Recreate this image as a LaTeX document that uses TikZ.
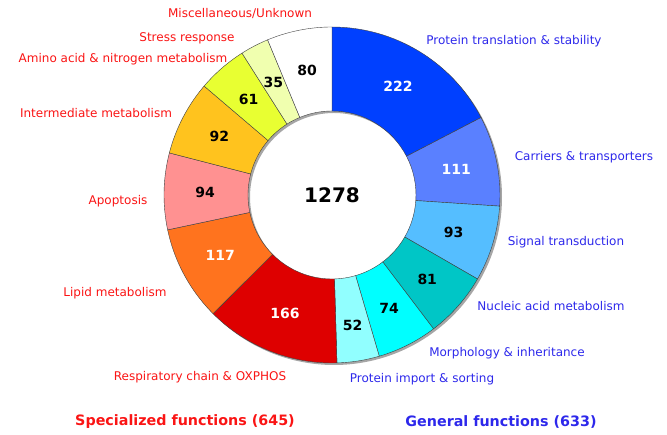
\documentclass[tikz,border=0pt]{standalone}
\usepackage{fontspec}
\setmainfont{DejaVu Sans}
\usepackage{tikz}

\definecolor{cTrans}{RGB}{0,64,255}
\definecolor{cCarr}{RGB}{90,128,255}
\definecolor{cSign}{RGB}{85,190,255}
\definecolor{cNucl}{RGB}{0,198,198}
\definecolor{cMorph}{RGB}{0,255,255}
\definecolor{cImp}{RGB}{145,255,255}
\definecolor{cResp}{RGB}{222,0,0}
\definecolor{cLip}{RGB}{255,115,30}
\definecolor{cApop}{RGB}{255,145,145}
\definecolor{cInter}{RGB}{255,195,30}
\definecolor{cAmino}{RGB}{232,255,50}
\definecolor{cStress}{RGB}{240,255,175}
\definecolor{cMisc}{RGB}{255,255,255}
\definecolor{specred}{RGB}{250,20,20}
\definecolor{genblue}{RGB}{45,40,235}

\begin{document}
\begin{tikzpicture}[x=1pt, y=1pt,
		slice/.style={draw=black!75, line width=0.4pt},
		num/.style={font=\fontsize{14}{16}\selectfont\bfseries},
		spec/.style={text=specred, font=\fontsize{12}{14}\selectfont},
		gen/.style={text=genblue, font=\fontsize{12}{14}\selectfont},
		total/.style={font=\fontsize{14.3}{16}\selectfont\bfseries}
	]
	\useasboundingbox (-332,-240) rectangle (335,195);

	\fill[black!35, even odd rule, shift={(2,-2)}] (0,0) circle (168pt) (0,0) circle (84pt);

	\draw[slice, fill=cTrans] (90:168pt) arc[start angle=90, end angle=27.465, radius=168pt] -- (27.465:84pt) arc[start angle=27.465, end angle=90, radius=84pt] -- cycle;
	\draw[slice, fill=cCarr] (27.465:168pt) arc[start angle=27.465, end angle=-3.803, radius=168pt] -- (-3.803:84pt) arc[start angle=-3.803, end angle=27.465, radius=84pt] -- cycle;
	\draw[slice, fill=cSign] (-3.803:168pt) arc[start angle=-3.803, end angle=-30, radius=168pt] -- (-30:84pt) arc[start angle=-30, end angle=-3.803, radius=84pt] -- cycle;
	\draw[slice, fill=cNucl] (-30:168pt) arc[start angle=-30, end angle=-52.817, radius=168pt] -- (-52.817:84pt) arc[start angle=-52.817, end angle=-30, radius=84pt] -- cycle;
	\draw[slice, fill=cMorph] (-52.817:168pt) arc[start angle=-52.817, end angle=-73.662, radius=168pt] -- (-73.662:84pt) arc[start angle=-73.662, end angle=-52.817, radius=84pt] -- cycle;
	\draw[slice, fill=cImp] (-73.662:168pt) arc[start angle=-73.662, end angle=-88.310, radius=168pt] -- (-88.310:84pt) arc[start angle=-88.310, end angle=-73.662, radius=84pt] -- cycle;
	\draw[slice, fill=cResp] (-88.310:168pt) arc[start angle=-88.310, end angle=-135.070, radius=168pt] -- (-135.070:84pt) arc[start angle=-135.070, end angle=-88.310, radius=84pt] -- cycle;
	\draw[slice, fill=cLip] (-135.070:168pt) arc[start angle=-135.070, end angle=-168.028, radius=168pt] -- (-168.028:84pt) arc[start angle=-168.028, end angle=-135.070, radius=84pt] -- cycle;
	\draw[slice, fill=cApop] (-168.028:168pt) arc[start angle=-168.028, end angle=-194.507, radius=168pt] -- (-194.507:84pt) arc[start angle=-194.507, end angle=-168.028, radius=84pt] -- cycle;
	\draw[slice, fill=cInter] (-194.507:168pt) arc[start angle=-194.507, end angle=-220.423, radius=168pt] -- (-220.423:84pt) arc[start angle=-220.423, end angle=-194.507, radius=84pt] -- cycle;
	\draw[slice, fill=cAmino] (-220.423:168pt) arc[start angle=-220.423, end angle=-237.606, radius=168pt] -- (-237.606:84pt) arc[start angle=-237.606, end angle=-220.423, radius=84pt] -- cycle;
	\draw[slice, fill=cStress] (-237.606:168pt) arc[start angle=-237.606, end angle=-247.465, radius=168pt] -- (-247.465:84pt) arc[start angle=-247.465, end angle=-237.606, radius=84pt] -- cycle;
	\draw[slice, fill=cMisc] (-247.465:168pt) arc[start angle=-247.465, end angle=-270, radius=168pt] -- (-270:84pt) arc[start angle=-270, end angle=-247.465, radius=84pt] -- cycle;

	\node[font=\fontsize{20}{22}\selectfont\bfseries] (all) at (0,0) {1278};

	\node[num, text=white] (n222) at (58.73:127pt) {222};
	\node[num, text=white] (n111) at (11.83:127pt) {111};
	\node[num] (n93) at (-16.90:127pt) {93};
	\node[num] (n81) at (-41.41:127pt) {81};
	\node[num] (n74) at (-63.24:127pt) {74};
	\node[num] (n52) at (-80.99:132pt) {52};
	\node[num, text=white] (n166) at (-111.69:127pt) {166};
	\node[num, text=white] (n117) at (-151.55:127pt) {117};
	\node[num] (n94) at (-181.27:127pt) {94};
	\node[num] (n92) at (-207.47:127pt) {92};
	\node[num] (n61) at (-229.01:127pt) {61};
	\node[num] (n35) at (-242.54:127pt) {35};
	\node[num] (n80) at (-258.73:127pt) {80};

	\node[gen] (trans) at (182,154) {Protein translation \& stability};
	\node[gen] (carr) at (252,38) {Carriers \& transporters};
	\node[gen] (sign) at (234,-47) {Signal transduction};
	\node[gen] (nucl) at (219,-111) {Nucleic acid metabolism};
	\node[gen] (morph) at (175,-158) {Morphology \& inheritance};
	\node[gen] (imp) at (90,-184) {Protein import \& sorting};

	\node[spec] (resp) at (-132,-182) {Respiratory chain \& OXPHOS};
	\node[spec] (lip) at (-217,-98) {Lipid metabolism};
	\node[spec] (apop) at (-214,-6) {Apoptosis};
	\node[spec] (inter) at (-236,82) {Intermediate metabolism};
	\node[spec] (amino) at (-209,136) {Amino acid \& nitrogen metabolism};
	\node[spec] (stress) at (-145,157) {Stress response};
	\node[spec] (misc) at (-92,181) {Miscellaneous/Unknown};

	\node[total, text=specred] (specfun) at (-147,-227) {Specialized functions (645)};
	\node[total, text=genblue] (genfun) at (169,-227) {General functions (633)};
\end{tikzpicture}
\end{document}
